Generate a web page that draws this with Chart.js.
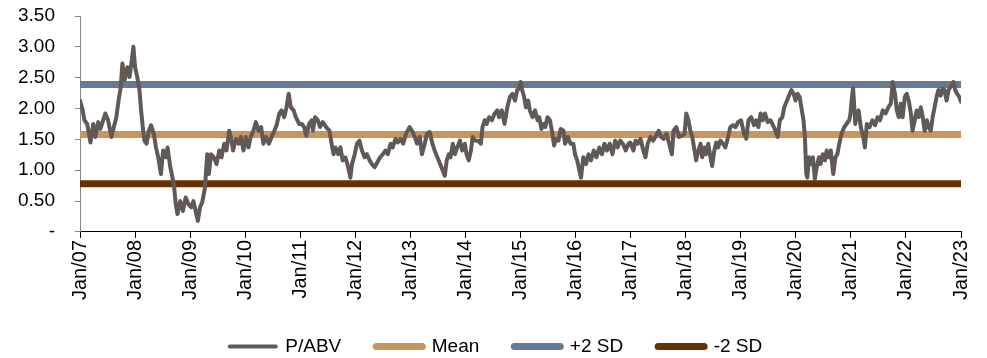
<!DOCTYPE html>
<html>
<head>
<meta charset="utf-8">
<script src="https://cdn.jsdelivr.net/npm/chart.js@4"></script>
<style>
  html, body { margin: 0; padding: 0; background: #ffffff; }
  #wrap { width: 987px; height: 358px; position: relative; }
</style>
</head>
<body>
<div id="wrap"><canvas id="chart"></canvas></div>
<script>
// P/ABV history: decimal-year dates and the matching multiples
const pabvYears = [
  2007.00, 2007.05, 2007.08, 2007.13, 2007.19, 2007.24, 2007.28, 2007.33, 2007.37, 2007.42,
  2007.46, 2007.51, 2007.57, 2007.615, 2007.66, 2007.70, 2007.74, 2007.77, 2007.81, 2007.86,
  2007.90, 2007.94, 2007.97, 2008.00, 2008.04, 2008.08, 2008.11, 2008.14, 2008.17, 2008.21,
  2008.25, 2008.29, 2008.34, 2008.38, 2008.42, 2008.47, 2008.51, 2008.56, 2008.59, 2008.64,
  2008.68, 2008.71, 2008.74, 2008.77, 2008.82, 2008.87, 2008.92, 2008.97,
  2009.02, 2009.06, 2009.10, 2009.14, 2009.18, 2009.22, 2009.27, 2009.31, 2009.34, 2009.38,
  2009.43, 2009.48, 2009.53, 2009.57, 2009.62, 2009.66, 2009.71, 2009.74, 2009.78, 2009.83,
  2009.88, 2009.92, 2009.97, 2010.01, 2010.06, 2010.10, 2010.15, 2010.195, 2010.24, 2010.29,
  2010.33, 2010.38, 2010.43, 2010.48, 2010.53, 2010.57, 2010.62, 2010.66, 2010.71, 2010.75,
  2010.79, 2010.83, 2010.88, 2010.92, 2010.98,
  2011.03, 2011.07, 2011.11, 2011.16, 2011.21, 2011.23, 2011.27, 2011.32, 2011.36, 2011.41,
  2011.47, 2011.53, 2011.57, 2011.605, 2011.64, 2011.69, 2011.73, 2011.77, 2011.82, 2011.87,
  2011.91, 2011.94, 2011.99, 2012.03, 2012.075, 2012.12, 2012.17, 2012.21, 2012.26, 2012.30,
  2012.35, 2012.40, 2012.45, 2012.50, 2012.55, 2012.59, 2012.64, 2012.68, 2012.73, 2012.77,
  2012.82, 2012.87, 2012.92, 2012.985,
  2013.03, 2013.08, 2013.12, 2013.17, 2013.21, 2013.26, 2013.30, 2013.35, 2013.40, 2013.44,
  2013.49, 2013.54, 2013.59, 2013.625, 2013.66, 2013.70, 2013.73, 2013.77, 2013.81, 2013.85,
  2013.90, 2013.94, 2013.99, 2014.02, 2014.06, 2014.10, 2014.13, 2014.18, 2014.23, 2014.28,
  2014.31, 2014.35, 2014.385, 2014.43, 2014.48, 2014.53, 2014.58, 2014.61, 2014.66, 2014.71,
  2014.76, 2014.81, 2014.855, 2014.90, 2014.94, 2014.975,
  2015.00, 2015.03, 2015.065, 2015.10, 2015.14, 2015.17, 2015.22, 2015.265, 2015.31, 2015.34,
  2015.38, 2015.415, 2015.45, 2015.49, 2015.535, 2015.57, 2015.61, 2015.645, 2015.69, 2015.73,
  2015.78, 2015.81, 2015.86, 2015.91, 2015.96, 2015.99, 2016.03, 2016.07, 2016.10, 2016.14,
  2016.19, 2016.235, 2016.28, 2016.33, 2016.38, 2016.43, 2016.48, 2016.525, 2016.57, 2016.62,
  2016.67, 2016.72, 2016.765, 2016.81, 2016.86, 2016.91, 2016.96, 2016.995,
  2017.05, 2017.09, 2017.13, 2017.18, 2017.23, 2017.27, 2017.31, 2017.36, 2017.41, 2017.46,
  2017.51, 2017.555, 2017.60, 2017.65, 2017.70, 2017.75, 2017.78, 2017.83, 2017.88, 2017.93,
  2017.98, 2018.01, 2018.05, 2018.085, 2018.12, 2018.16, 2018.19, 2018.23, 2018.27, 2018.30,
  2018.34, 2018.37, 2018.41, 2018.45, 2018.48, 2018.52, 2018.555, 2018.59, 2018.63, 2018.68,
  2018.72, 2018.77, 2018.81, 2018.86, 2018.905, 2018.95, 2019.005,
  2019.06, 2019.10, 2019.14, 2019.19, 2019.24, 2019.28, 2019.32, 2019.36, 2019.40, 2019.44,
  2019.49, 2019.54, 2019.585, 2019.63, 2019.67, 2019.71, 2019.755, 2019.79, 2019.84, 2019.89,
  2019.92, 2019.96, 2019.995, 2020.03, 2020.07, 2020.10, 2020.14, 2020.165, 2020.19, 2020.21,
  2020.24, 2020.27, 2020.31, 2020.345, 2020.38, 2020.42, 2020.45, 2020.49, 2020.53, 2020.56,
  2020.60, 2020.635, 2020.68, 2020.72, 2020.755, 2020.79, 2020.83, 2020.88, 2020.92, 2020.97,
  2020.99, 2021.02, 2021.04, 2021.06, 2021.08, 2021.11, 2021.14, 2021.18, 2021.225, 2021.255,
  2021.29, 2021.34, 2021.39, 2021.44, 2021.485, 2021.53, 2021.58, 2021.63, 2021.68, 2021.725,
  2021.76, 2021.80, 2021.835, 2021.87, 2021.906, 2021.94, 2021.98, 2022.015, 2022.05, 2022.09,
  2022.12, 2022.16, 2022.195, 2022.23, 2022.27, 2022.305, 2022.34, 2022.38, 2022.41, 2022.45,
  2022.485, 2022.52, 2022.557, 2022.59, 2022.63, 2022.665, 2022.70, 2022.738, 2022.774, 2022.81,
  2022.86, 2022.895, 2022.93, 2022.967, 2023.00
];
const pabvValues = [
  2.13, 1.97, 1.81, 1.75, 1.45, 1.75, 1.54, 1.78, 1.67, 1.81,
  1.92, 1.81, 1.54, 1.70, 1.86, 2.13, 2.35, 2.73, 2.46, 2.67,
  2.51, 2.78, 3.00, 2.67, 2.51, 2.30, 1.97, 1.70, 1.48, 1.43,
  1.64, 1.73, 1.59, 1.37, 1.21, 0.94, 1.32, 1.21, 1.37, 1.05,
  0.88, 0.72, 0.45, 0.29, 0.50, 0.34, 0.56, 0.45,
  0.40, 0.50, 0.34, 0.18, 0.40, 0.48, 0.72, 1.26, 0.94, 1.26,
  1.21, 1.10, 1.32, 1.21, 1.43, 1.32, 1.64, 1.54, 1.32, 1.51,
  1.43, 1.54, 1.32, 1.54, 1.37, 1.54, 1.64, 1.78, 1.64, 1.70,
  1.43, 1.54, 1.43, 1.54, 1.64, 1.73, 1.92, 1.97, 1.86, 2.02,
  2.24, 2.02, 1.97, 1.86, 1.75,
  1.75, 1.70, 1.56, 1.75, 1.81, 1.64, 1.86, 1.81, 1.70, 1.78,
  1.70, 1.64, 1.43, 1.26, 1.37, 1.26, 1.37, 1.16, 1.21, 1.05,
  0.88, 1.10, 1.26, 1.43, 1.48, 1.32, 1.21, 1.26, 1.16, 1.10,
  1.05, 1.13, 1.21, 1.26, 1.32, 1.26, 1.43, 1.37, 1.51, 1.45,
  1.51, 1.43, 1.59, 1.70,
  1.64, 1.54, 1.43, 1.54, 1.26, 1.43, 1.59, 1.62, 1.43, 1.32,
  1.21, 1.10, 0.99, 0.91, 1.16, 1.26, 1.21, 1.43, 1.26, 1.37,
  1.48, 1.32, 1.43, 1.26, 1.16, 1.32, 1.54, 1.48, 1.48, 1.43,
  1.70, 1.81, 1.75, 1.86, 1.81, 1.92, 1.97, 1.86, 1.97, 1.75,
  2.02, 2.19, 2.24, 2.13, 2.30, 2.32,
  2.43, 2.30, 2.19, 2.02, 2.13, 1.97, 1.86, 1.97, 1.81, 1.86,
  1.67, 1.75, 1.70, 1.86, 1.81, 1.64, 1.40, 1.51, 1.48, 1.67,
  1.64, 1.43, 1.54, 1.43, 1.43, 1.26, 1.16, 0.99, 0.88, 1.21,
  1.10, 1.26, 1.16, 1.32, 1.21, 1.37, 1.26, 1.43, 1.32, 1.43,
  1.26, 1.48, 1.37, 1.48, 1.43, 1.32, 1.43, 1.45,
  1.32, 1.48, 1.43, 1.51, 1.32, 1.21, 1.43, 1.54, 1.48, 1.56,
  1.64, 1.54, 1.51, 1.59, 1.43, 1.26, 1.64, 1.70, 1.54, 1.56,
  1.59, 1.92, 1.81, 1.64, 1.54, 1.32, 1.16, 1.32, 1.43, 1.21,
  1.37, 1.26, 1.43, 1.21, 1.07, 1.32, 1.45, 1.37, 1.48, 1.43,
  1.37, 1.54, 1.70, 1.73, 1.70, 1.78, 1.81,
  1.59, 1.51, 1.81, 1.86, 1.73, 1.81, 1.70, 1.92, 1.81, 1.92,
  1.78, 1.81, 1.73, 1.64, 1.54, 1.81, 1.86, 2.02, 2.13, 2.24,
  2.30, 2.24, 2.13, 2.24, 2.19, 2.02, 1.81, 1.54, 0.94, 0.88,
  1.21, 1.10, 1.21, 0.86, 1.05, 1.21, 1.10, 1.26, 1.16, 1.32,
  1.21, 1.32, 0.94, 1.21, 1.26, 1.43, 1.59, 1.70, 1.75, 1.81,
  1.90, 2.19, 2.33, 2.05, 1.75, 1.92, 1.97, 1.70, 1.54, 1.37,
  1.75, 1.70, 1.81, 1.73, 1.86, 1.81, 1.97, 1.92, 2.02, 2.08,
  2.43, 2.24, 1.97, 1.86, 2.08, 1.86, 2.19, 2.24, 2.13, 1.92,
  1.64, 1.81, 1.97, 1.86, 2.02, 1.86, 1.64, 1.81, 1.70, 1.64,
  1.86, 2.02, 2.19, 2.30, 2.21, 2.32, 2.30, 2.13, 2.30, 2.35,
  2.43, 2.30, 2.24, 2.19, 2.11
];

// Long-run reference levels
const meanLevel = 1.58;
const plus2SdLevel = 2.39;
const minus2SdLevel = 0.78;

const seriesNames = ['P/ABV', 'Mean', '+2 SD', '-2 SD'];
const seriesColors = ['#615955', '#C9955F', '#687A93', '#663300'];
const seriesWidths = [4, 7, 7, 7];

const xRange = [2007, 2023];
const yTicks = [0, 0.5, 1, 1.5, 2, 2.5, 3, 3.5];

const pabvPoints = pabvYears.map((yr, i) => ({ x: yr, y: pabvValues[i] }));
const flatLine = level => xRange.map(yr => ({ x: yr, y: level }));

const levels = [null, meanLevel, plus2SdLevel, minus2SdLevel];
const datasets = seriesNames.map((name, i) => ({
  label: name,
  data: i === 0 ? pabvPoints : flatLine(levels[i]),
  borderColor: seriesColors[i],
  backgroundColor: seriesColors[i],
  borderWidth: seriesWidths[i],
  borderCapStyle: 'round',
  borderJoinStyle: 'round',
  pointRadius: 0,
  tension: 0,
  fill: false
}));

const FONT = 'Arial, "Liberation Sans", sans-serif';

// nudge the bottom legend row a little to the right of the canvas centre
const legendShift = {
  id: 'legendShift',
  afterLayout(chart) {
    if (chart.legend) {
      chart.legend.left += 11;
      chart.legend.right += 11;
    }
  }
};

new Chart(document.getElementById('chart'), {
  type: 'line',
  data: { datasets },
  plugins: [legendShift],
  options: {
    responsive: true,
    maintainAspectRatio: false,
    animation: false,
    events: [],
    layout: { padding: { left: 0, right: 17, top: 16, bottom: 0 } },
    plugins: {
      tooltip: { enabled: false },
      legend: {
        position: 'bottom',
        maxHeight: 56,
        labels: {
          color: '#000000',
          font: { family: FONT, size: 19 },
          usePointStyle: true,
          pointStyleWidth: 46,
          padding: 35,
          generateLabels: chart => chart.data.datasets.map((ds, i) => ({
            text: ds.label,
            datasetIndex: i,
            fillStyle: ds.borderColor,
            strokeStyle: ds.borderColor,
            lineWidth: i === 0 ? 4 : 7,
            lineCap: 'round',
            pointStyle: 'line',
            hidden: false
          }))
        }
      }
    },
    scales: {
      x: {
        type: 'linear',
        min: xRange[0],
        max: xRange[1],
        afterBuildTicks: axis => {
          const out = [];
          for (let y = xRange[0]; y <= xRange[1]; y++) out.push({ value: y });
          axis.ticks = out;
        },
        ticks: {
          autoSkip: false,
          maxRotation: 90,
          minRotation: 90,
          padding: 2,
          color: '#000000',
          font: { family: FONT, size: 20 },
          callback: v => 'Jan/' + String(Math.round(v)).slice(2)
        },
        grid: { drawOnChartArea: false, tickLength: 6, color: '#000000', lineWidth: 1 },
        border: { color: '#000000', width: 1 }
      },
      y: {
        min: 0,
        max: 3.5,
        afterBuildTicks: axis => { axis.ticks = yTicks.map(v => ({ value: v })); },
        afterFit: axis => {
          // fixed gutter for the value labels; keep the axis ends tight to the plot
          axis.width = 80;
          axis.paddingTop = 10;
          axis.paddingBottom = 10;
        },
        ticks: {
          padding: 20,
          color: '#000000',
          font: { family: FONT, size: 19 },
          callback: v => (v === 0 ? '-' : Number(v).toFixed(2))
        },
        grid: { drawOnChartArea: false, tickLength: 5, color: '#868686', lineWidth: 1 },
        border: { color: '#868686', width: 1 }
      }
    }
  }
});
</script>
</body>
</html>
